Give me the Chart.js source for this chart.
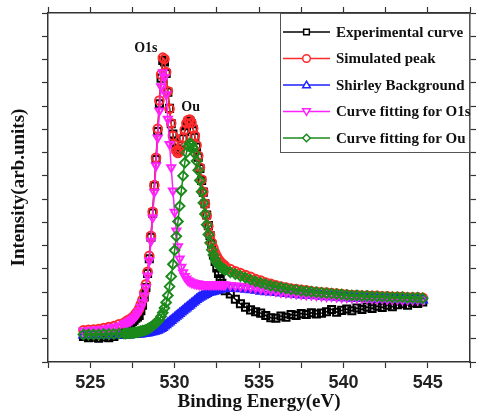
<!DOCTYPE html>
<html>
<head>
<meta charset="utf-8">
<script src="https://cdn.jsdelivr.net/npm/chart.js@4.4.1/dist/chart.umd.min.js"></script>
<style>
  html, body { margin: 0; padding: 0; background: #fff; }
  #wrap { width: 477px; height: 415px; position: relative; }
</style>
</head>
<body>
<div id="wrap"><canvas id="xps"></canvas></div>
<script>
/* ── Data (binding energy in eV, intensity in arb. units) ── */
const energy = [
  524.6, 524.9, 525.2, 525.5, 525.8, 526.1, 526.4, 526.7, 527.0,
  527.1, 527.2, 527.3, 527.4, 527.5, 527.6, 527.7, 527.8, 527.9, 528.0,
  528.1, 528.2, 528.3, 528.4, 528.5, 528.6, 528.7, 528.8, 528.9, 529.0,
  529.1, 529.2, 529.3, 529.4, 529.5, 529.6, 529.7, 529.8, 529.9, 530.0,
  530.1, 530.2, 530.3, 530.4, 530.5, 530.6, 530.7, 530.8, 530.9, 531.0,
  531.1, 531.2, 531.3, 531.4, 531.5, 531.6, 531.7, 531.8, 531.9, 532.0,
  532.1, 532.2, 532.3, 532.4, 532.5, 532.6, 532.7, 532.8, 532.9, 533.0,
  533.3, 533.6, 533.9, 534.2, 534.5, 534.8, 535.1, 535.4, 535.7, 536.0,
  536.3, 536.6, 536.9, 537.2, 537.5, 537.8, 538.1, 538.4, 538.7, 539.0,
  539.3, 539.6, 539.9, 540.2, 540.5, 540.8, 541.1, 541.4, 541.7, 542.0,
  542.3, 542.6, 542.9, 543.2, 543.5, 543.8, 544.1, 544.4, 544.7
];

const expCurve = [
  0.05, 0.02, 0.03, 0.01, 0.04, 0.02, 0.05, 0.09, 0.15,
  0.20, 0.24, 0.29, 0.33, 0.37, 0.40, 0.44, 0.47, 0.50, 0.60,
  0.72, 0.90, 1.10, 1.40, 1.72, 2.18, 2.70, 3.28, 3.85, 4.45,
  5.05, 5.60, 5.98, 5.95, 5.70, 5.30, 4.95, 4.62, 4.40, 4.22,
  4.08, 4.02, 4.05, 4.15, 4.30, 4.45, 4.58, 4.66, 4.68, 4.62,
  4.50, 4.33, 4.12, 3.90, 3.66, 3.40, 3.15, 2.90, 2.66, 2.43,
  2.22, 2.03, 1.80, 1.66, 1.52, 1.40, 1.29, 1.19, 1.10, 1.03,
  0.96, 0.85, 0.75, 0.68, 0.62, 0.58, 0.55, 0.50, 0.45, 0.44,
  0.49, 0.46, 0.52, 0.50, 0.54, 0.52, 0.56, 0.53, 0.55, 0.58,
  0.63, 0.57, 0.61, 0.64, 0.60, 0.66, 0.63, 0.68, 0.65, 0.70,
  0.67, 0.72, 0.69, 0.73, 0.75, 0.72, 0.77, 0.76, 0.79
];

const simPeak = [
  0.18, 0.19, 0.20, 0.21, 0.23, 0.25, 0.27, 0.31, 0.34,
  0.36, 0.39, 0.41, 0.42, 0.46, 0.49, 0.54, 0.58, 0.65, 0.74,
  0.84, 0.99, 1.17, 1.44, 1.78, 2.21, 2.73, 3.30, 3.89, 4.51,
  5.12, 5.68, 6.04, 6.01, 5.73, 5.32, 4.94, 4.63, 4.36, 4.17,
  4.04, 3.99, 4.03, 4.15, 4.32, 4.49, 4.63, 4.70, 4.71, 4.64,
  4.52, 4.36, 4.16, 3.93, 3.68, 3.42, 3.16, 2.90, 2.65, 2.42,
  2.23, 2.07, 1.95, 1.85, 1.77, 1.71, 1.66, 1.62, 1.59, 1.56,
  1.50, 1.45, 1.41, 1.37, 1.33, 1.28, 1.25, 1.21, 1.18, 1.15,
  1.12, 1.10, 1.08, 1.07, 1.05, 1.04, 1.02, 1.01, 1.00, 0.99,
  0.98, 0.97, 0.96, 0.95, 0.94, 0.94, 0.93, 0.93, 0.92, 0.92,
  0.91, 0.91, 0.90, 0.90, 0.90, 0.89, 0.89, 0.89, 0.88
];

const shirley = [
  0.08, 0.08, 0.08, 0.08, 0.08, 0.08, 0.08, 0.08, 0.08,
  0.08, 0.08, 0.08, 0.09, 0.09, 0.09, 0.09, 0.10, 0.10, 0.10,
  0.11, 0.11, 0.12, 0.12, 0.13, 0.14, 0.15, 0.16, 0.17, 0.18,
  0.20, 0.22, 0.24, 0.27, 0.30, 0.33, 0.36, 0.39, 0.42, 0.45,
  0.48, 0.51, 0.54, 0.57, 0.60, 0.63, 0.66, 0.69, 0.72, 0.75,
  0.78, 0.81, 0.84, 0.87, 0.89, 0.91, 0.93, 0.95, 0.97, 0.99,
  1.00, 1.01, 1.02, 1.03, 1.04, 1.05, 1.06, 1.07, 1.07, 1.08,
  1.08, 1.08, 1.07, 1.06, 1.05, 1.04, 1.02, 1.01, 1.00, 0.99,
  0.98, 0.97, 0.96, 0.95, 0.94, 0.93, 0.93, 0.92, 0.91, 0.90,
  0.90, 0.89, 0.88, 0.88, 0.87, 0.87, 0.86, 0.86, 0.85, 0.85,
  0.85, 0.84, 0.84, 0.84, 0.83, 0.83, 0.83, 0.83, 0.83
];

const fitO1s = [
  0.17, 0.18, 0.19, 0.20, 0.21, 0.23, 0.25, 0.28, 0.31,
  0.33, 0.35, 0.37, 0.39, 0.42, 0.45, 0.49, 0.54, 0.60, 0.68,
  0.78, 0.92, 1.10, 1.35, 1.68, 2.10, 2.60, 3.15, 3.72, 4.32,
  4.90, 5.42, 5.72, 5.62, 5.25, 4.72, 4.18, 3.68, 3.18, 2.72,
  2.32, 1.98, 1.72, 1.54, 1.42, 1.34, 1.29, 1.25, 1.23, 1.21,
  1.20, 1.19, 1.18, 1.18, 1.17, 1.17, 1.17, 1.17, 1.17, 1.17,
  1.17, 1.17, 1.17, 1.17, 1.17, 1.17, 1.17, 1.17, 1.16, 1.16,
  1.15, 1.14, 1.13, 1.12, 1.11, 1.09, 1.07, 1.05, 1.04, 1.02,
  1.00, 0.99, 0.98, 0.97, 0.96, 0.95, 0.94, 0.93, 0.92, 0.91,
  0.91, 0.90, 0.89, 0.89, 0.88, 0.88, 0.87, 0.87, 0.86, 0.86,
  0.86, 0.85, 0.85, 0.85, 0.84, 0.84, 0.84, 0.84, 0.84
];

const fitOu = [
  0.09, 0.09, 0.09, 0.09, 0.10, 0.10, 0.10, 0.11, 0.11,
  0.11, 0.12, 0.12, 0.12, 0.13, 0.13, 0.14, 0.14, 0.15, 0.16,
  0.17, 0.18, 0.19, 0.21, 0.23, 0.25, 0.28, 0.31, 0.34, 0.37,
  0.42, 0.48, 0.56, 0.66, 0.78, 0.93, 1.12, 1.34, 1.60, 1.90,
  2.20, 2.52, 2.85, 3.18, 3.50, 3.78, 4.00, 4.14, 4.20, 4.18,
  4.10, 3.98, 3.82, 3.62, 3.40, 3.16, 2.92, 2.68, 2.45, 2.24,
  2.06, 1.91, 1.80, 1.71, 1.64, 1.59, 1.55, 1.52, 1.50, 1.48,
  1.43, 1.39, 1.35, 1.31, 1.27, 1.23, 1.20, 1.17, 1.14, 1.12,
  1.10, 1.08, 1.06, 1.05, 1.03, 1.02, 1.01, 1.00, 0.99, 0.98,
  0.97, 0.96, 0.95, 0.94, 0.93, 0.93, 0.92, 0.92, 0.91, 0.91,
  0.90, 0.90, 0.89, 0.89, 0.89, 0.88, 0.88, 0.88, 0.87
];

const xTickLabels = [525, 530, 535, 540, 545];
const peakNames = ['O1s', 'Ou'];
const peakSpots = [[528.3, 6.25], [530.95, 4.97]];

/* ── Helpers ── */
const pts = ys => energy.map((e, i) => ({ x: e, y: ys[i] }));
const serif = "'Liberation Serif','Times New Roman',serif";
const sans  = "'Liberation Sans',Arial,sans-serif";

function series(label, ys, color, style, order, extra) {
  return Object.assign({
    label, data: pts(ys), order,
    borderColor: color, borderWidth: 1.5,
    pointStyle: style, pointRadius: 4.3,
    pointBorderColor: color, pointBorderWidth: 2,
    pointBackgroundColor: 'rgba(255,255,255,0)',
    tension: 0, fill: false
  }, extra || {});
}

/* ── Legend box + peak labels ── */
function marker(ctx, kind, x, y, r) {
  ctx.beginPath();
  if (kind === 'rect') ctx.rect(x - r * 0.75, y - r * 0.75, r * 1.5, r * 1.5);
  else if (kind === 'circle') ctx.arc(x, y, r, 0, Math.PI * 2);
  else if (kind === 'up') { ctx.moveTo(x, y - r); ctx.lineTo(x + r, y + r * 0.7); ctx.lineTo(x - r, y + r * 0.7); ctx.closePath(); }
  else if (kind === 'down') { ctx.moveTo(x, y + r); ctx.lineTo(x + r, y - r * 0.7); ctx.lineTo(x - r, y - r * 0.7); ctx.closePath(); }
  else { ctx.moveTo(x, y - r); ctx.lineTo(x + r, y); ctx.lineTo(x, y + r); ctx.lineTo(x - r, y); ctx.closePath(); }
  ctx.fill(); ctx.stroke();
}

const legendKinds = ['rect', 'circle', 'up', 'down', 'diamond'];

const boxLegend = {
  id: 'boxLegend',
  afterDraw(chart) {
    const ctx = chart.ctx, a = chart.chartArea;
    const L = 280, T = a.top, R = a.right, B = 152;
    ctx.save();
    ctx.fillStyle = '#fff';
    ctx.fillRect(L, T, R - L, B - T);
    ctx.strokeStyle = '#555';
    ctx.lineWidth = 1;
    ctx.strokeRect(L + 0.5, T + 0.5, R - L - 1, B - T);
    chart.data.datasets.forEach((ds, i) => {
      const y = 32 + i * 26.5;
      ctx.strokeStyle = ds.borderColor;
      ctx.lineWidth = 1.5;
      ctx.beginPath(); ctx.moveTo(283, y); ctx.lineTo(330, y); ctx.stroke();
      ctx.fillStyle = '#fff';
      marker(ctx, legendKinds[i], 306.5, y, 3.8);
      ctx.fillStyle = '#111';
      ctx.font = 'bold 15px ' + serif;
      ctx.textBaseline = 'middle';
      ctx.textAlign = 'left';
      ctx.fillText(ds.label, 336, y + 1);
    });

    // peak names
    const xs = chart.scales.x, ys = chart.scales.y;
    ctx.fillStyle = '#111';
    ctx.font = 'bold 14px ' + serif;
    ctx.textAlign = 'center';
    peakNames.forEach((n, i) => {
      ctx.fillText(n, xs.getPixelForValue(peakSpots[i][0]), ys.getPixelForValue(peakSpots[i][1]));
    });
    ctx.restore();
  }
};

/* ── Chart ── */
const frame = { display: true, color: '#333', width: 1.5 };
const tickGrid = { drawOnChartArea: false, drawTicks: true, tickLength: 6, tickColor: '#333', tickWidth: 1.2 };

new Chart(document.getElementById('xps'), {
  type: 'line',
  data: {
    datasets: [
      series('Experimental curve', expCurve, '#000000', 'rect', 4, { pointRadius: 5 }),
      series('Simulated peak', simPeak, '#ff2a2a', 'circle', 3),
      series('Shirley Background', shirley, '#1f1fff', 'triangle', 2, { pointRadius: 4.8 }),
      series('Curve fitting for O1s', fitO1s, '#ff22ff', 'triangle', 1, { pointRotation: 180, pointRadius: 4.6 }),
      series('Curve fitting for Ou', fitOu, '#1b8a1b', 'rectRot', 0, { pointRadius: 4.8 })
    ]
  },
  options: {
    responsive: true, maintainAspectRatio: false, animation: false,
    layout: { padding: 0 },
    plugins: { legend: { display: false }, tooltip: { enabled: false } },
    scales: {
      x: {
        type: 'linear', position: 'bottom', min: 522.5, max: 547.5,
        border: frame, grid: tickGrid,
        ticks: {
          stepSize: 2.5, padding: 4, maxRotation: 0, autoSkip: false, color: '#222',
          font: { family: sans, size: 18, weight: 'bold' },
          callback: v => xTickLabels.includes(v) ? v : ''
        },
        title: {
          display: true, text: 'Binding Energy(eV)', color: '#111',
          font: { family: serif, size: 19, weight: 'bold' }, padding: { top: 0, bottom: 2 }
        },
        afterFit: s => { s.height = 53; }
      },
      x2: {
        type: 'linear', position: 'top', min: 522.5, max: 547.5,
        border: frame, grid: tickGrid,
        ticks: { stepSize: 2.5, display: false },
        afterFit: s => { s.height = 13; }
      },
      y: {
        type: 'linear', position: 'left', min: -0.5, max: 7,
        border: frame, grid: tickGrid,
        ticks: { stepSize: 0.5, display: false },
        title: {
          display: true, text: 'Intensity(arb.units)', color: '#111',
          font: { family: serif, size: 19, weight: 'bold' }, padding: { top: 8, bottom: 0 }
        },
        afterFit: s => { s.width = 48; }
      },
      y2: {
        type: 'linear', position: 'right', min: -0.5, max: 7,
        border: frame, grid: tickGrid,
        ticks: { stepSize: 0.5, display: false },
        afterFit: s => { s.width = 2; }
      }
    }
  },
  plugins: [boxLegend]
});
</script>
</body>
</html>
